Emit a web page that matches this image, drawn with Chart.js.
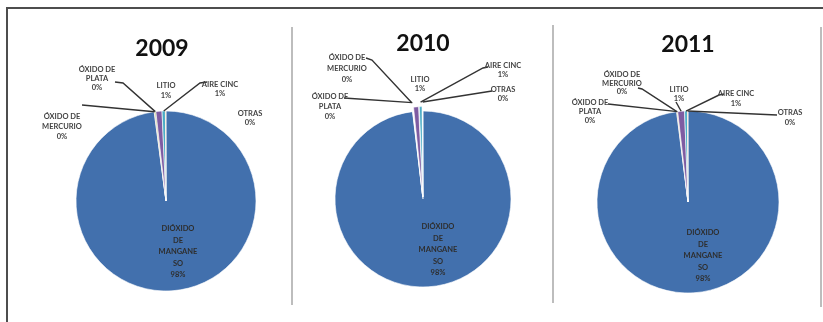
<!DOCTYPE html>
<html>
<head>
<meta charset="utf-8">
<script src="https://cdn.jsdelivr.net/npm/chart.js@4.4.1/dist/chart.umd.min.js"></script>
<style>
    html, body { margin: 0; padding: 0; background: #fff; }
    #wrap { position: relative; width: 823px; height: 322px; overflow: hidden; }
    #wrap canvas { position: absolute; left: 0; top: 0; }
    .frame { position: absolute; left: 6px; top: 7px; width: 830px; height: 330px;
             border-top: 2px solid #4d4d4d; border-left: 2px solid #4d4d4d; }
    .sep { position: absolute; width: 2px; background: #bdbdbd; }
</style>
</head>
<body>
<div id="wrap">
    <div class="frame"></div>
    <div class="sep" style="left:291px;top:27px;height:278px"></div>
    <div class="sep" style="left:552px;top:25px;height:278px"></div>
    <div class="sep" style="left:820px;top:27px;height:280px"></div>
    <canvas id="c2009" width="823" height="322"></canvas>
    <canvas id="c2010" width="823" height="322"></canvas>
    <canvas id="c2011" width="823" height="322"></canvas>
</div>
<script>
/* ---------- Data ---------- */
const years = ['2009', '2010', '2011'];
const categories = [
    ['DIÓXIDO', 'DE', 'MANGANE', 'SO'],
    ['ÓXIDO DE', 'MERCURIO'],
    ['ÓXIDO DE', 'PLATA'],
    ['LITIO'],
    ['AIRE CINC'],
    ['OTRAS']
];
const values2009 = [98.0, 0.1, 0.2, 1.1, 0.6, 0.1];
const values2010 = [98.1, 0.1, 0.1, 1.0, 0.6, 0.1];
const values2011 = [98.0, 0.1, 0.1, 1.2, 0.5, 0.1];
const seriesValues = [values2009, values2010, values2011];

const colors = ['#4270ad', '#c0504d', '#9bbb59', '#7e5ca2', '#4bacc6', '#f79646'];

/* ---------- Layout (page pixels) ---------- */
const layouts = [
    {   // 2009
        cx: 166, cy: 201, r: 90, explode: 0, title: [162, 49],
        big: [12, 28],
        labels: { 1: [62, 117, 10], 2: [97, 70, 9], 3: [166, 86, 10], 4: [220, 85, 9], 5: [250, 114, 9] },
        leaders: { 1: [[82, 105]], 2: [[115, 82], [123, 83]], 4: [[207, 82], [200, 83]] }
    },
    {   // 2010
        cx: 423, cy: 199, r: 88, explode: 9, title: [423, 44],
        big: [15, 28],
        labels: { 1: [347, 58, 11], 2: [330, 97, 10], 3: [420, 80, 9], 4: [503, 66, 9], 5: [503, 90, 9] },
        leaders: { 1: [[366, 58], [372, 60]], 2: [[344, 98]], 4: [[488, 67], [483, 68]], 5: [[492, 91]] }
    },
    {   // 2011
        cx: 688, cy: 202, r: 91, explode: 0, title: [688, 45],
        big: [15, 31],
        labels: { 1: [622, 75, 8.5], 2: [590, 103, 9], 3: [679, 90, 8.5], 4: [736, 94, 10], 5: [790, 113, 10] },
        leaders: { 1: [[638, 88], [642, 89]], 2: [[608, 104]], 3: [[676, 102]], 4: [[724, 94], [719, 95]], 5: [[777, 115]] }
    }
];

/* ---------- Label plugin ---------- */
const pieLabels = {
    id: 'pieLabels',
    afterDatasetsDraw(chart) {
        const lay = chart.options.plugins.pieLabels.layout;
        const vals = chart.data.datasets[0].data;
        const arcs = chart.getDatasetMeta(0).data;
        const ctx = chart.ctx;
        ctx.save();

        // title
        ctx.fillStyle = '#111';
        ctx.font = "bold 23px Lato, 'Open Sans', sans-serif";
        ctx.textAlign = 'center';
        ctx.textBaseline = 'middle';
        ctx.fillText(chart.options.plugins.pieLabels.title, lay.title[0], lay.title[1]);

        // leader lines
        ctx.strokeStyle = '#333';
        ctx.lineWidth = 1.4;
        Object.keys(lay.leaders).forEach(k => {
            const arc = arcs[k];
            const mid = (arc.startAngle + arc.endAngle) / 2;
            const R = arc.outerRadius + (arc.options.offset || 0);
            const pts = lay.leaders[k];
            ctx.beginPath();
            ctx.moveTo(pts[0][0], pts[0][1]);
            for (let i = 1; i < pts.length; i++) ctx.lineTo(pts[i][0], pts[i][1]);
            ctx.lineTo(arc.x + Math.cos(mid) * R, arc.y + Math.sin(mid) * R);
            ctx.stroke();
        });

        // outside labels
        ctx.font = "bold 7.5px Lato, 'Open Sans', sans-serif";
        ctx.fillStyle = '#444';
        Object.keys(lay.labels).forEach(k => {
            const [x, y, lh] = lay.labels[k];
            const lines = chart.data.labels[k].concat([Math.round(vals[k]) + '%']);
            lines.forEach((t, i) => ctx.fillText(t, x, y + i * lh));
        });

        // big slice label
        const a0 = arcs[0];
        const lines0 = chart.data.labels[0].concat([Math.round(vals[0]) + '%']);
        ctx.fillStyle = '#2e2e2e';
        lines0.forEach((t, i) => ctx.fillText(t, a0.x + lay.big[0], a0.y + lay.big[1] + i * 11.5));
        ctx.restore();
    }
};

/* ---------- Build charts ---------- */
years.forEach((yr, n) => {
    const lay = layouts[n];
    new Chart(document.getElementById('c' + yr), {
        type: 'pie',
        data: {
            labels: categories,
            datasets: [{
                data: seriesValues[n],
                backgroundColor: colors,
                borderColor: '#ffffff',
                borderWidth: 0.6,
                hoverOffset: 0,
                offset: seriesValues[n].map((_, i) => i === 0 ? 0 : lay.explode)
            }]
        },
        options: {
            responsive: false,
            animation: false,
            events: [],
            radius: lay.r,
            layout: { padding: { left: lay.cx - lay.r, right: 823 - lay.cx - lay.r,
                                 top: lay.cy - lay.r, bottom: 322 - lay.cy - lay.r } },
            plugins: {
                legend: { display: false },
                tooltip: { enabled: false },
                title: { display: false },
                pieLabels: { layout: lay, title: yr }
            }
        },
        plugins: [pieLabels]
    });
});
</script>
</body>
</html>
